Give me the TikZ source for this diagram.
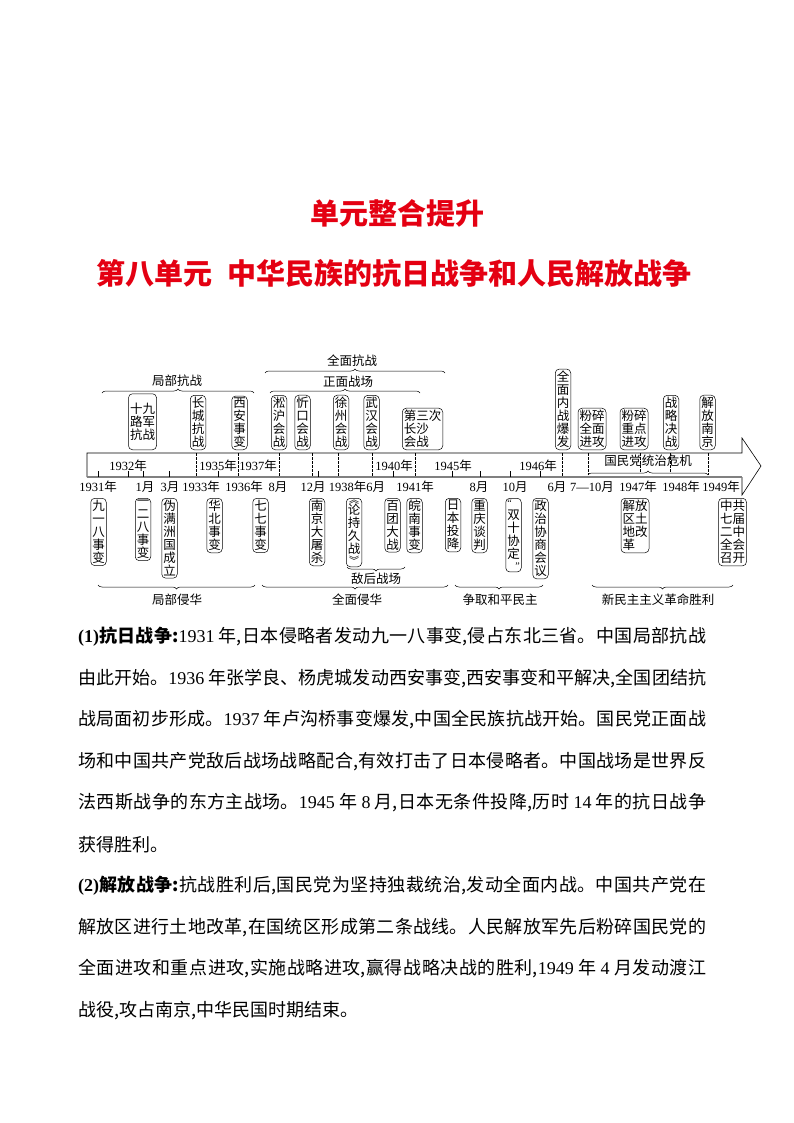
\documentclass[tikz,border=0pt]{standalone}
\usepackage{fontspec}
\setmainfont{Noto Sans CJK SC}
\newfontfamily\tnr{Liberation Serif}
\usepackage{tikz}
\usetikzlibrary{decorations.pathreplacing, positioning}
\definecolor{titlered}{RGB}{228, 0, 18}
\XeTeXlinebreaklocale "zh"
\XeTeXlinebreakskip=0pt plus 3pt
\newcommand\yr[1]{{\tnr #1}年}
\newcommand\mo[1]{{\tnr #1}月}
\newcommand\fullline[1]{\parbox{628pt}{\fontsize{18}{20}\selectfont\tolerance=10000\parfillskip=0pt\relax #1}}
\newcommand\lastline[1]{\parbox{628pt}{\fontsize{18}{20}\selectfont #1}}

\begin{document}
\begin{tikzpicture}[x=1pt, y=-1pt,
    every node/.style={font=\fontsize{12.5}{13}\selectfont, inner sep=0pt},
    evt/.style={draw, line width=0.5pt, rounded corners=4pt, inner xsep=1.5pt, inner ysep=2pt, align=center},
    up/.style={evt, anchor=south},
    dn/.style={evt, anchor=north},
    date/.style={inner sep=0pt},
    brc/.style={decorate, decoration={brace, amplitude=4pt}, line width=0.5pt},
    brcdn/.style={decorate, decoration={brace, amplitude=4pt, mirror}, line width=0.5pt},
    tk/.style={line width=0.5pt, dash pattern=on 2.5pt off 1.5pt},
    ttl/.style={font=\fontsize{29}{31}\selectfont\bfseries, text=titlered},
    txt/.style={anchor=west, inner sep=0pt}
]
\useasboundingbox (0,0) rectangle (794,1123);
\fill[white] (0,0) rectangle (794,1123);

% Titles
\node[ttl] (title) at (397,213) {单元整合提升};
\node[ttl] (subtitle) at (394,273) {第八单元\hspace{0.5em}中华民族的抗日战争和人民解放战争};

% Time bar
\draw[line width=0.6pt] (87,477) -- (87,453) -- (742,453) -- (742,438) -- (761,466) -- (742,495) -- (742,477);
\draw[gray, line width=1.3pt] (87,477) -- (742,477);
\foreach \x in {196,238,279,312,338,372,415,562} {
    \draw[tk] (\x,453) -- (\x,477);
}
\foreach \x/\y in {588/475,640/472,670/472,708/475} {
    \draw[tk] (\x,453) -- (\x,\y);
}
\foreach \x in {98,128,143,169,218,318,393,452,480,510,540} {
    \draw[line width=0.5pt] (\x,477) -- (\x,471);
}

% Dates inside the bar
\foreach \x/\t in {128/1932,218/1935,258/1937,394/1940,453/1945,538/1946} {
    \node[date] (in\t) at (\x,466) {\yr{\t}};
}

% Dates under the bar
\foreach \x/\t [count=\i] in {98/\yr{1931},145/\mo{1},170/\mo{3},201/\yr{1933},244/\yr{1936},278/\mo{8},313/\mo{12},357/\yr{1938}\mo{6},415/\yr{1941},479/\mo{8},515/\mo{10},557/\mo{6},592/{\tnr 7—10}月,638/\yr{1947},681/\yr{1948},721/\yr{1949}} {
    \node[date] (d\i) at (\x,487) {\t};
}
\node (crisis) at (648,461) {国民党统治危机};
\draw[brc] (588,475) -- (708,475);

% Upper row — events above the bar
\node[up, minimum height=56pt] (sjl) at (142.5,450) {十九\\路军\\抗战};
\node[up] (ccz) at (198,450) {长\\城\\抗\\战};
\node[up] (xasb) at (239.5,450) {西\\安\\事\\变};
\node[up] (shhz) at (279,450) {淞\\沪\\会\\战};
\node[up] (xkhz) at (302.5,450) {忻\\口\\会\\战};
\node[up] (xzhz) at (341,450) {徐\\州\\会\\战};
\node[up] (whhz) at (371.5,450) {武\\汉\\会\\战};
\node[up, align=left] (csz) at (422.5,450) {第三次\\长沙\\会战};
\node[up] (nzbf) at (563,450) {全\\面\\内\\战\\爆\\发};
\node[up] (qmjg) at (592,450) {粉碎\\全面\\进攻};
\node[up] (zdjg) at (634,450) {粉碎\\重点\\进攻};
\node[up] (zljz) at (671,450) {战\\略\\决\\战};
\node[up] (jfnj) at (707.5,450) {解\\放\\南\\京};

% Upper braces
\draw[brc] (102,393) -- (254,393);
\node (jbkz) at (177,381) {局部抗战};
\draw[brc] (265,373) -- (445,373);
\node (qmkz) at (352,361) {全面抗战};
\draw[brc] (270,393) -- (420,393);
\node (zmzc) at (348,382) {正面战场};

% Lower row — events under the bar
\node[dn] (jyb) at (98.5,498) {九\\一\\八\\事\\变};
\node[dn] (yeb) at (143,498) {一\\二\\八\\事\\变};
\node[dn] (wmz) at (169.5,498) {伪\\满\\洲\\国\\成\\立};
\node[dn] (hbsb) at (214.5,498) {华\\北\\事\\变};
\node[dn] (qqsb) at (260.5,498) {七\\七\\事\\变};
\node[dn] (njdts) at (317,498) {南\\京\\大\\屠\\杀};
\node[dn] (lcjz) at (354,498) {{\fontsize{10}{10}\selectfont ︽}\\[-2pt]论\\持\\久\\战\\[-2pt]{\fontsize{10}{10}\selectfont ︾}};
\node[dn] (btdz) at (392.5,498) {百\\团\\大\\战};
\node[dn] (wnsb) at (414.5,498) {皖\\南\\事\\变};
\node[dn] (rbtx) at (453,498) {日\\本\\投\\降};
\node[dn] (cqtp) at (479.5,498) {重\\庆\\谈\\判};
\node[dn] (sxxd) at (513.5,498) {\makebox[12.5pt][l]{\tnr\fontsize{10}{10}\selectfont “}\\双\\十\\协\\定\\[-2pt]\makebox[12.5pt][r]{\tnr\fontsize{10}{10}\selectfont ”}};
\node[dn] (zzxs) at (540.5,498) {政\\治\\协\\商\\会\\议};
\node[dn, align=left] (tdgg) at (635,498) {解放\\区土\\地改\\革};
\node[dn] (qjez) at (732.5,498) {中共\\七届\\二中\\全会\\召开};

% Lower braces
\draw[brcdn] (347,567) -- (405,567);
\node (dhzc) at (376,579) {敌后战场};
\draw[brcdn] (98,585) -- (255,585);
\node (jbqh) at (177,600) {局部侵华};
\draw[brcdn] (262,585) -- (448,585);
\node (qmqh) at (357,600) {全面侵华};
\draw[brcdn] (455,585) -- (543,585);
\node (zqhp) at (500,600) {争取和平民主};
\draw[brcdn] (592,585) -- (733,585);
\node (xmzz) at (658,600) {新民主主义革命胜利};

% Summary text
\node[txt] (p1) at (78,637) {\fullline{{\tnr\bfseries (1)}{\bfseries 抗日战争:}{\tnr 1931} 年,日本侵略者发动九一八事变,侵占东北三省。中国局部抗战}};
\node[txt] (p2) at (78,678.5) {\fullline{由此开始。{\tnr 1936} 年张学良、杨虎城发动西安事变,西安事变和平解决,全国团结抗}};
\node[txt] (p3) at (78,720) {\fullline{战局面初步形成。{\tnr 1937} 年卢沟桥事变爆发,中国全民族抗战开始。国民党正面战}};
\node[txt] (p4) at (78,761.5) {\fullline{场和中国共产党敌后战场战略配合,有效打击了日本侵略者。中国战场是世界反}};
\node[txt] (p5) at (78,803) {\fullline{法西斯战争的东方主战场。{\tnr 1945} 年 {\tnr 8} 月,日本无条件投降,历时 {\tnr 14} 年的抗日战争}};
\node[txt] (p6) at (78,844.5) {\lastline{获得胜利。}};
\node[txt] (p7) at (78,886) {\fullline{{\tnr\bfseries (2)}{\bfseries 解放战争:}抗战胜利后,国民党为坚持独裁统治,发动全面内战。中国共产党在}};
\node[txt] (p8) at (78,927.5) {\fullline{解放区进行土地改革,在国统区形成第二条战线。人民解放军先后粉碎国民党的}};
\node[txt] (p9) at (78,969) {\fullline{全面进攻和重点进攻,实施战略进攻,赢得战略决战的胜利,{\tnr 1949} 年 {\tnr 4} 月发动渡江}};
\node[txt] (p10) at (78,1010.5) {\lastline{战役,攻占南京,中华民国时期结束。}};

\end{tikzpicture}
\end{document}
